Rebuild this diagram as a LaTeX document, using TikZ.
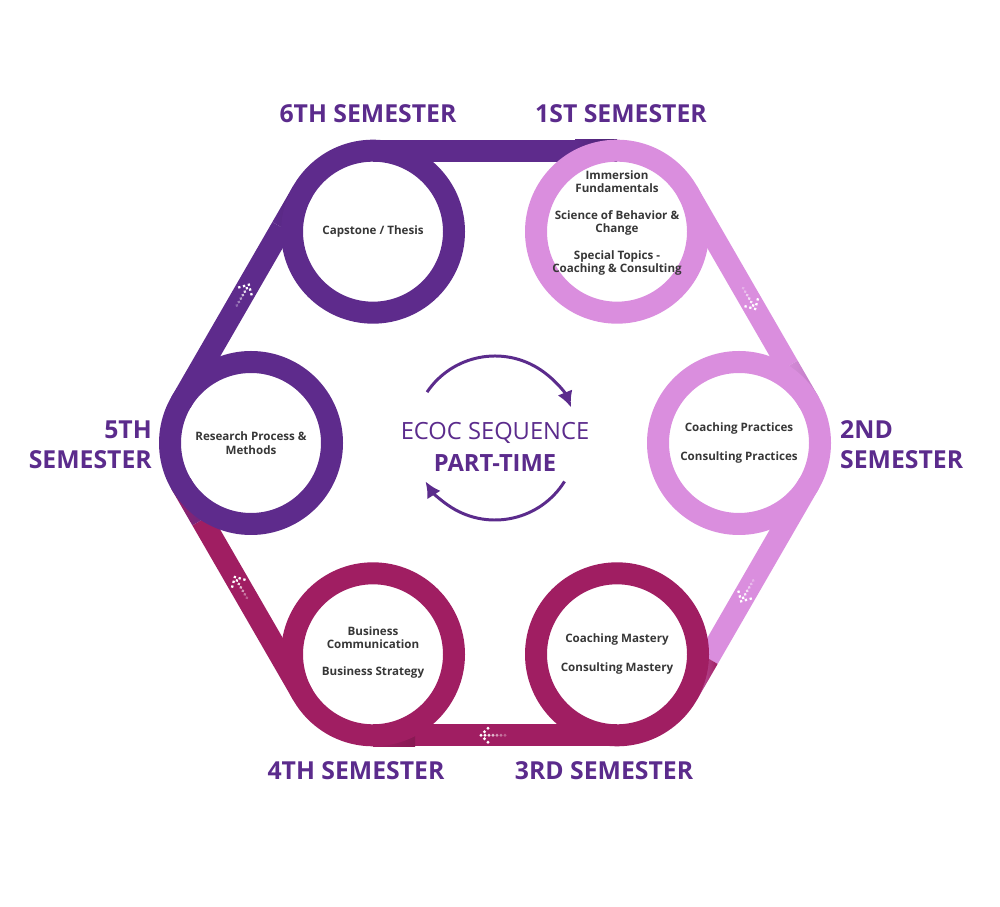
\documentclass[tikz,border=0pt]{standalone}
\usepackage{fontspec}
\setmainfont{Open Sans}
\usetikzlibrary{arrows.meta}
\definecolor{ecocpurple}{RGB}{94,43,140}
\definecolor{ecocorchid}{RGB}{218,142,222}
\definecolor{ecocmagenta}{RGB}{160,30,98}
\definecolor{ecoctext}{RGB}{91,43,140}
\definecolor{ringgrey}{RGB}{55,55,55}

\begin{document}
\begin{tikzpicture}[x=0.02cm,y=0.02cm,
  semlabel/.style={text=ecoctext,font=\bfseries\fontsize{14.1}{17}\selectfont},
  ringtext/.style={text=ringgrey,font=\bfseries\fontsize{6.6}{7.6}\selectfont,align=center},
  ringline/.style={line width=0.44cm},
  cyclearrow/.style={ecoctext,line width=1.7pt,-{Latex[length=9pt,width=9pt]}}]
\useasboundingbox (0,0) rectangle (1000,906);
\coordinate (c) at (495,463);

% ribbon between the semesters
\foreach \a/\ca/\cb in {120/ecocpurple/ecocpurple!80!black,
                        60/ecocorchid/ecocorchid!88!black,
                        0/ecocorchid/ecocmagenta,
                        -60/ecocmagenta/ecocmagenta!85!black,
                        -120/ecocmagenta/ecocpurple,
                        180/ecocpurple/ecocpurple!85!black}
{
  \begin{scope}[shift={(c)},rotate=\a-120]
    \fill[\ca] (-122,281.3) rectangle (80,303.3);
    \shade[left color=\ca,right color=\cb] (80,281.3) rectangle (122,303.3);
  \end{scope}
}

% dotted arrows on the ribbon
\foreach \a in {60,0,-60,-120,180}
{
  \begin{scope}[shift={(c)},rotate=\a-120]
    \foreach \dx/\dy in {14/0,10.5/3.5,10.5/-3.5,7/7,7/-7}
      \fill[white] (\dx,292.3+\dy) circle[radius=1.6];
    \foreach \dx/\op in {10/1,6/0.85,2/0.7,-2/0.55,-6/0.4,-10/0.3}
      \fill[white,opacity=\op] (\dx,292.3) circle[radius=1.6];
  \end{scope}
}

% rings
\foreach \n/\a/\col in {s6/120/ecocpurple,s1/60/ecocorchid,s2/0/ecocorchid,
                        s3/-60/ecocmagenta,s4/-120/ecocmagenta,s5/180/ecocpurple}
{
  \coordinate (\n) at ([shift={(\a:244)}]c);
  \draw[ringline,\col] (\n) circle[radius=81];
}

% courses
\node[ringtext] (t6) at (s6) {Capstone / Thesis};
\node[ringtext] (t1) at ([yshift=5pt]s1) {Immersion\\Fundamentals\\[7.5pt]Science of Behavior \&\\Change\\[7.5pt]Special Topics -\\Coaching \& Consulting};
\node[ringtext] (t2) at (s2) {Coaching Practices\\[9pt]Consulting Practices};
\node[ringtext] (t3) at (s3) {Coaching Mastery\\[9pt]Consulting Mastery};
\node[ringtext] (t4) at ([yshift=1pt]s4) {Business\\Communication\\[8pt]Business Strategy};
\node[ringtext] (t5) at (s5) {Research Process \&\\Methods};

% semester labels
\node[semlabel] (l6) at (368,792) {6TH SEMESTER};
\node[semlabel] (l1) at (621,792) {1ST SEMESTER};
\node[semlabel,anchor=west,align=left] (l2) at (834,461) {2ND\\SEMESTER};
\node[semlabel,anchor=east,align=right] (l5) at (158,461) {5TH\\SEMESTER};
\node[semlabel] (l4) at (356,135) {4TH SEMESTER};
\node[semlabel] (l3) at (604,135) {3RD SEMESTER};

% centre
\coordinate (ctr) at (495,468);
\node[text=ecoctext,font=\fontsize{13.5}{15}\selectfont] (seq) at (495,473) {ECOC SEQUENCE};
\node[text=ecoctext,font=\bfseries\fontsize{13.5}{15}\selectfont] (ptime) at (495,443) {PART-TIME};
\draw[cyclearrow] ([shift={(146:82)}]ctr) arc[start angle=146,end angle=22,radius=82];
\draw[cyclearrow] ([shift={(-32:82)}]ctr) arc[start angle=-32,end angle=-148,radius=82];
\end{tikzpicture}
\end{document}
